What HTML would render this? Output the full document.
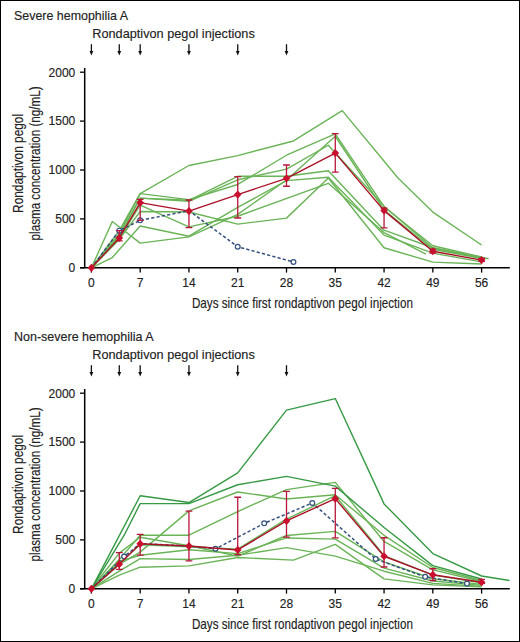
<!DOCTYPE html>
<html><head><meta charset="utf-8"><style>
html,body{margin:0;padding:0;background:#fff}
.w{position:relative;width:520px;height:642px;box-sizing:border-box;border:1px solid #000;background:#fff;overflow:hidden}
svg{position:absolute;left:-1px;top:-1px}
text{font-family:"Liberation Sans",sans-serif;fill:#222;stroke:#222;stroke-width:0.15px}
</style></head><body><div class="w">
<svg width="520" height="642" viewBox="0 0 520 642">
<text x="14" y="19.8" font-size="13" textLength="114" lengthAdjust="spacingAndGlyphs">Severe hemophilia A</text>
<text x="92.3" y="38.2" font-size="13.5" textLength="162.5" lengthAdjust="spacingAndGlyphs">Rondaptivon pegol injections</text>
<path d="M91.4 44.2V52" stroke="#111" stroke-width="1.3"/>
<path d="M89.5 51L93.3 51L91.4 55.5Z" fill="#111"/>
<path d="M119.27 44.2V52" stroke="#111" stroke-width="1.3"/>
<path d="M117.37 51L121.17 51L119.27 55.5Z" fill="#111"/>
<path d="M140.18 44.2V52" stroke="#111" stroke-width="1.3"/>
<path d="M138.28 51L142.08 51L140.18 55.5Z" fill="#111"/>
<path d="M188.95 44.2V52" stroke="#111" stroke-width="1.3"/>
<path d="M187.05 51L190.85 51L188.95 55.5Z" fill="#111"/>
<path d="M237.73 44.2V52" stroke="#111" stroke-width="1.3"/>
<path d="M235.83 51L239.63 51L237.73 55.5Z" fill="#111"/>
<path d="M286.5 44.2V52" stroke="#111" stroke-width="1.3"/>
<path d="M284.6 51L288.4 51L286.5 55.5Z" fill="#111"/>
<path d="M84.7 68V267.8M80 267.8H509.8" stroke="#000" stroke-width="1.5" fill="none"/>
<path d="M80 267.8H84.7" stroke="#000" stroke-width="1.3"/>
<text x="75.3" y="272.1" font-size="12" text-anchor="end">0</text>
<path d="M80 218.9H84.7" stroke="#000" stroke-width="1.3"/>
<text x="75.3" y="223.2" font-size="12" text-anchor="end">500</text>
<path d="M80 170H84.7" stroke="#000" stroke-width="1.3"/>
<text x="75.3" y="174.3" font-size="12" text-anchor="end">1000</text>
<path d="M80 121.1H84.7" stroke="#000" stroke-width="1.3"/>
<text x="75.3" y="125.4" font-size="12" text-anchor="end">1500</text>
<path d="M80 72.2H84.7" stroke="#000" stroke-width="1.3"/>
<text x="75.3" y="76.5" font-size="12" text-anchor="end">2000</text>
<path d="M91.4 267.8V272.6" stroke="#000" stroke-width="1.3"/>
<text x="91.4" y="287.4" font-size="12" text-anchor="middle">0</text>
<path d="M140.18 267.8V272.6" stroke="#000" stroke-width="1.3"/>
<text x="140.18" y="287.4" font-size="12" text-anchor="middle">7</text>
<path d="M188.95 267.8V272.6" stroke="#000" stroke-width="1.3"/>
<text x="188.95" y="287.4" font-size="12" text-anchor="middle">14</text>
<path d="M237.73 267.8V272.6" stroke="#000" stroke-width="1.3"/>
<text x="237.73" y="287.4" font-size="12" text-anchor="middle">21</text>
<path d="M286.5 267.8V272.6" stroke="#000" stroke-width="1.3"/>
<text x="286.5" y="287.4" font-size="12" text-anchor="middle">28</text>
<path d="M335.28 267.8V272.6" stroke="#000" stroke-width="1.3"/>
<text x="335.28" y="287.4" font-size="12" text-anchor="middle">35</text>
<path d="M384.06 267.8V272.6" stroke="#000" stroke-width="1.3"/>
<text x="384.06" y="287.4" font-size="12" text-anchor="middle">42</text>
<path d="M432.83 267.8V272.6" stroke="#000" stroke-width="1.3"/>
<text x="432.83" y="287.4" font-size="12" text-anchor="middle">49</text>
<path d="M481.61 267.8V272.6" stroke="#000" stroke-width="1.3"/>
<text x="481.61" y="287.4" font-size="12" text-anchor="middle">56</text>
<text x="191.9" y="308.2" font-size="14.5" textLength="221" lengthAdjust="spacingAndGlyphs">Days since first rondaptivon pegol injection</text>
<text transform="translate(22.5 163.4) rotate(-90)" x="0" y="0" font-size="14.5" text-anchor="middle" textLength="99" lengthAdjust="spacingAndGlyphs">Rondaptivon pegol</text>
<text transform="translate(40.3 163.4) rotate(-90)" x="0" y="0" font-size="14.5" text-anchor="middle" textLength="154" lengthAdjust="spacingAndGlyphs">plasma concentration (ng/mL)</text>
<path d="M91.4 267.8 L119.27 230.64 L140.18 193.57 L188.95 165.5 L237.73 155.62 L293.47 140.95 L342.25 110.64 L397.99 178.02 L432.83 212.05 L481.61 245.01" stroke="#6ab457" stroke-width="1.4" fill="none" stroke-linejoin="round"/>
<path d="M91.4 267.8 L119.27 233.57 L140.18 193.57 L188.95 199.63 L237.73 184.47 L286.5 155.23 L335.28 133.81 L384.06 206.68 L432.83 245.8 L481.61 257.04" stroke="#6ab457" stroke-width="1.4" fill="none" stroke-linejoin="round"/>
<path d="M91.4 267.8 L119.27 235.53 L140.18 198.17 L188.95 200.32 L237.73 176.26 L286.5 176.26 L328.31 170.78 L384.06 230.15 L432.83 247.75 L488.58 258.7" stroke="#6ab457" stroke-width="1.4" fill="none" stroke-linejoin="round"/>
<path d="M91.4 267.8 L119.27 236.5 L140.18 198.17 L188.95 201.3 L237.73 179.78 L286.5 169.12 L328.31 145.26 L384.06 206.19 L432.83 248.04 L481.61 258.02" stroke="#6ab457" stroke-width="1.4" fill="none" stroke-linejoin="round"/>
<path d="M91.4 267.8 L119.27 238.46 L140.18 205.21 L188.95 226.92 L237.73 216.26 L328.31 183.3 L384.06 232.59 L425.86 254.01" stroke="#6ab457" stroke-width="1.4" fill="none" stroke-linejoin="round"/>
<path d="M91.4 267.8 L119.27 239.44 L140.18 211.47 L188.95 212.05 L237.73 224.08 L286.5 218.12 L328.31 178.02 L384.06 247.75 L432.83 262.13 L481.61 263.99" stroke="#6ab457" stroke-width="1.4" fill="none" stroke-linejoin="round"/>
<path d="M91.4 267.8 L112.3 257.53 L140.18 226.04 L188.95 236.21 L237.73 207.46 L286.5 180.66 L328.31 177.24 L384.06 235.04 L432.83 253.13 L481.61 261.93" stroke="#6ab457" stroke-width="1.4" fill="none" stroke-linejoin="round"/>
<path d="M91.4 267.8 L112.3 221.54 L140.18 243.15 L188.95 236.9 L237.73 214.4 L286.5 179.98 L335.28 136.26 L384.06 210.1 L432.83 249.22 L481.61 258.51" stroke="#6ab457" stroke-width="1.4" fill="none" stroke-linejoin="round"/>
<path d="M91.4 267.8 L119.27 230.64 L140.18 220.37 L188.95 210.68 L237.73 246.77 L293.47 261.93" stroke="#34507f" stroke-width="1.5" fill="none" stroke-dasharray="3.2 2.2"/>
<circle cx="119.27" cy="230.64" r="2.4" fill="#fff" stroke="#34507f" stroke-width="1.2"/>
<circle cx="140.18" cy="220.37" r="2.4" fill="#fff" stroke="#34507f" stroke-width="1.2"/>
<circle cx="237.73" cy="246.77" r="2.4" fill="#fff" stroke="#34507f" stroke-width="1.2"/>
<circle cx="293.47" cy="261.93" r="2.4" fill="#fff" stroke="#34507f" stroke-width="1.2"/>
<path d="M119.27 240.91V230.54M115.87 240.91H122.67M115.87 230.54H122.67" stroke="#b8173c" stroke-width="1.3" fill="none"/>
<path d="M140.18 220.37V199.34M136.78 220.37H143.58M136.78 199.34H143.58" stroke="#b8173c" stroke-width="1.3" fill="none"/>
<path d="M188.95 227.7V200.02M185.55 227.7H192.35M185.55 200.02H192.35" stroke="#b8173c" stroke-width="1.3" fill="none"/>
<path d="M237.73 218.02V176.55M234.33 218.02H241.13M234.33 176.55H241.13" stroke="#b8173c" stroke-width="1.3" fill="none"/>
<path d="M286.5 186.23V165.01M283.1 186.23H289.9M283.1 165.01H289.9" stroke="#b8173c" stroke-width="1.3" fill="none"/>
<path d="M335.28 172.15V133.62M331.88 172.15H338.68M331.88 133.62H338.68" stroke="#b8173c" stroke-width="1.3" fill="none"/>
<path d="M384.06 227.9V208.14M380.66 227.9H387.46M380.66 208.14H387.46" stroke="#b8173c" stroke-width="1.3" fill="none"/>
<path d="M432.83 253.13V249.22M429.43 253.13H436.23M429.43 249.22H436.23" stroke="#b8173c" stroke-width="1.3" fill="none"/>
<path d="M481.61 261.44V258.51M478.21 261.44H485.01M478.21 258.51H485.01" stroke="#b8173c" stroke-width="1.3" fill="none"/>
<path d="M91.4 267.8 L119.27 237.97 L140.18 202.67 L188.95 211.08 L237.73 194.55 L286.5 178.31 L335.28 153.08 L384.06 210.59 L432.83 251.27 L481.61 260.07" stroke="#aa1229" stroke-width="1.4" fill="none" stroke-linejoin="round"/>
<path d="M91.4 263.7L95.2 267.8L91.4 271.9L87.6 267.8Z" fill="#c8102e"/>
<path d="M119.27 233.87L123.07 237.97L119.27 242.07L115.47 237.97Z" fill="#c8102e"/>
<path d="M140.18 198.57L143.98 202.67L140.18 206.77L136.38 202.67Z" fill="#c8102e"/>
<path d="M188.95 206.98L192.75 211.08L188.95 215.18L185.15 211.08Z" fill="#c8102e"/>
<path d="M237.73 190.45L241.53 194.55L237.73 198.65L233.93 194.55Z" fill="#c8102e"/>
<path d="M286.5 174.21L290.3 178.31L286.5 182.41L282.7 178.31Z" fill="#c8102e"/>
<path d="M335.28 148.98L339.08 153.08L335.28 157.18L331.48 153.08Z" fill="#c8102e"/>
<path d="M384.06 206.49L387.86 210.59L384.06 214.69L380.26 210.59Z" fill="#c8102e"/>
<path d="M432.83 247.17L436.63 251.27L432.83 255.37L429.03 251.27Z" fill="#c8102e"/>
<path d="M481.61 255.97L485.41 260.07L481.61 264.17L477.81 260.07Z" fill="#c8102e"/>
<text x="14" y="340.8" font-size="13" textLength="139.6" lengthAdjust="spacingAndGlyphs">Non-severe hemophilia A</text>
<text x="92.3" y="359.2" font-size="13.5" textLength="162.5" lengthAdjust="spacingAndGlyphs">Rondaptivon pegol injections</text>
<path d="M91.4 365.2V373" stroke="#111" stroke-width="1.3"/>
<path d="M89.5 372L93.3 372L91.4 376.5Z" fill="#111"/>
<path d="M119.27 365.2V373" stroke="#111" stroke-width="1.3"/>
<path d="M117.37 372L121.17 372L119.27 376.5Z" fill="#111"/>
<path d="M140.18 365.2V373" stroke="#111" stroke-width="1.3"/>
<path d="M138.28 372L142.08 372L140.18 376.5Z" fill="#111"/>
<path d="M188.95 365.2V373" stroke="#111" stroke-width="1.3"/>
<path d="M187.05 372L190.85 372L188.95 376.5Z" fill="#111"/>
<path d="M237.73 365.2V373" stroke="#111" stroke-width="1.3"/>
<path d="M235.83 372L239.63 372L237.73 376.5Z" fill="#111"/>
<path d="M286.5 365.2V373" stroke="#111" stroke-width="1.3"/>
<path d="M284.6 372L288.4 372L286.5 376.5Z" fill="#111"/>
<path d="M84.7 389V588.8M80 588.8H509.8" stroke="#000" stroke-width="1.5" fill="none"/>
<path d="M80 588.8H84.7" stroke="#000" stroke-width="1.3"/>
<text x="75.3" y="593.1" font-size="12" text-anchor="end">0</text>
<path d="M80 539.9H84.7" stroke="#000" stroke-width="1.3"/>
<text x="75.3" y="544.2" font-size="12" text-anchor="end">500</text>
<path d="M80 491H84.7" stroke="#000" stroke-width="1.3"/>
<text x="75.3" y="495.3" font-size="12" text-anchor="end">1000</text>
<path d="M80 442.1H84.7" stroke="#000" stroke-width="1.3"/>
<text x="75.3" y="446.4" font-size="12" text-anchor="end">1500</text>
<path d="M80 393.2H84.7" stroke="#000" stroke-width="1.3"/>
<text x="75.3" y="397.5" font-size="12" text-anchor="end">2000</text>
<path d="M91.4 588.8V593.6" stroke="#000" stroke-width="1.3"/>
<text x="91.4" y="608.4" font-size="12" text-anchor="middle">0</text>
<path d="M140.18 588.8V593.6" stroke="#000" stroke-width="1.3"/>
<text x="140.18" y="608.4" font-size="12" text-anchor="middle">7</text>
<path d="M188.95 588.8V593.6" stroke="#000" stroke-width="1.3"/>
<text x="188.95" y="608.4" font-size="12" text-anchor="middle">14</text>
<path d="M237.73 588.8V593.6" stroke="#000" stroke-width="1.3"/>
<text x="237.73" y="608.4" font-size="12" text-anchor="middle">21</text>
<path d="M286.5 588.8V593.6" stroke="#000" stroke-width="1.3"/>
<text x="286.5" y="608.4" font-size="12" text-anchor="middle">28</text>
<path d="M335.28 588.8V593.6" stroke="#000" stroke-width="1.3"/>
<text x="335.28" y="608.4" font-size="12" text-anchor="middle">35</text>
<path d="M384.06 588.8V593.6" stroke="#000" stroke-width="1.3"/>
<text x="384.06" y="608.4" font-size="12" text-anchor="middle">42</text>
<path d="M432.83 588.8V593.6" stroke="#000" stroke-width="1.3"/>
<text x="432.83" y="608.4" font-size="12" text-anchor="middle">49</text>
<path d="M481.61 588.8V593.6" stroke="#000" stroke-width="1.3"/>
<text x="481.61" y="608.4" font-size="12" text-anchor="middle">56</text>
<text x="191.9" y="629.2" font-size="14.5" textLength="221" lengthAdjust="spacingAndGlyphs">Days since first rondaptivon pegol injection</text>
<text transform="translate(22.5 484.4) rotate(-90)" x="0" y="0" font-size="14.5" text-anchor="middle" textLength="99" lengthAdjust="spacingAndGlyphs">Rondaptivon pegol</text>
<text transform="translate(40.3 484.4) rotate(-90)" x="0" y="0" font-size="14.5" text-anchor="middle" textLength="154" lengthAdjust="spacingAndGlyphs">plasma concentration (ng/mL)</text>
<path d="M91.4 588.8 L119.27 564.35 L140.18 552.12 L188.95 510.85 L237.73 491.98 L286.5 499.02 L335.28 494.81 L384.06 535.3 L432.83 567.48 L481.61 580.49" stroke="#6ab457" stroke-width="1.4" fill="none" stroke-linejoin="round"/>
<path d="M91.4 588.8 L119.27 559.46 L140.18 535.21 L188.95 535.21 L237.73 511.54 L286.5 489.63 L335.28 482.39 L384.06 541.46 L432.83 569.83 L481.61 581.46" stroke="#6ab457" stroke-width="1.4" fill="none" stroke-linejoin="round"/>
<path d="M91.4 588.8 L119.27 553.1 L140.18 537.26 L188.95 545.77 L237.73 556.13 L286.5 535.5 L335.28 531.39 L384.06 561.9 L432.83 578.73 L481.61 584.4" stroke="#6ab457" stroke-width="1.4" fill="none" stroke-linejoin="round"/>
<path d="M91.4 588.8 L119.27 561.42 L140.18 555.25 L188.95 549.68 L237.73 553.59 L286.5 537.94 L335.28 539.12 L384.06 568.07 L432.83 580.98 L481.61 585.38" stroke="#6ab457" stroke-width="1.4" fill="none" stroke-linejoin="round"/>
<path d="M91.4 588.8 L119.27 571.2 L140.18 558.58 L188.95 559.46 L237.73 555.25 L286.5 547.63 L335.28 556.13 L384.06 571.2 L432.83 583.42 L481.61 586.35" stroke="#6ab457" stroke-width="1.4" fill="none" stroke-linejoin="round"/>
<path d="M91.4 588.8 L119.27 575.11 L140.18 567.19 L188.95 565.91 L237.73 557.5 L293.47 560.14 L335.28 544.4 L384.06 578.92 L432.83 584.89 L481.61 586.84" stroke="#6ab457" stroke-width="1.4" fill="none" stroke-linejoin="round"/>
<path d="M91.4 588.8 L119.27 563.18 L140.18 544.79 L188.95 546.75 L237.73 549.19 L286.5 519.17 L335.28 495.69 L384.06 555.55 L432.83 575.11 L481.61 582.74" stroke="#6ab457" stroke-width="1.4" fill="none" stroke-linejoin="round"/>
<path d="M91.4 588.8 L124.15 535.21 L140.18 503.62 L188.95 503.62 L237.73 484.74 L286.5 476.33 L335.28 486.11 L384.06 527.48 L432.83 565.62 L481.61 579.02" stroke="#369a44" stroke-width="1.4" fill="none" stroke-linejoin="round"/>
<path d="M91.4 588.8 L140.18 495.79 L188.95 502.54 L237.73 472.91 L286.5 410.12 L335.28 398.58 L384.06 503.91 L432.83 553.59 L481.61 575.99 L509.48 580.49" stroke="#369a44" stroke-width="1.4" fill="none" stroke-linejoin="round"/>
<path d="M91.4 588.8 L124.15 556.62 L140.18 543.62 L188.95 546.06 L215.43 548.8 L264.21 523.37 L312.29 502.93 L375.69 559.07 L425.17 576.87 L466.98 583.62" stroke="#34507f" stroke-width="1.5" fill="none" stroke-dasharray="3.2 2.2"/>
<circle cx="124.15" cy="556.62" r="2.4" fill="#fff" stroke="#34507f" stroke-width="1.2"/>
<circle cx="215.43" cy="548.8" r="2.4" fill="#fff" stroke="#34507f" stroke-width="1.2"/>
<circle cx="264.21" cy="523.37" r="2.4" fill="#fff" stroke="#34507f" stroke-width="1.2"/>
<circle cx="312.29" cy="502.93" r="2.4" fill="#fff" stroke="#34507f" stroke-width="1.2"/>
<circle cx="375.69" cy="559.07" r="2.4" fill="#fff" stroke="#34507f" stroke-width="1.2"/>
<circle cx="425.17" cy="576.87" r="2.4" fill="#fff" stroke="#34507f" stroke-width="1.2"/>
<circle cx="466.98" cy="583.62" r="2.4" fill="#fff" stroke="#34507f" stroke-width="1.2"/>
<path d="M119.27 569.44V552.71M115.87 569.44H122.67M115.87 552.71H122.67" stroke="#b8173c" stroke-width="1.3" fill="none"/>
<path d="M140.18 555.06V534.42M136.78 555.06H143.58M136.78 534.42H143.58" stroke="#b8173c" stroke-width="1.3" fill="none"/>
<path d="M188.95 560.83V511.15M185.55 560.83H192.35M185.55 511.15H192.35" stroke="#b8173c" stroke-width="1.3" fill="none"/>
<path d="M237.73 554.57V497.26M234.33 554.57H241.13M234.33 497.26H241.13" stroke="#b8173c" stroke-width="1.3" fill="none"/>
<path d="M286.5 537.16V491.29M283.1 537.16H289.9M283.1 491.29H289.9" stroke="#b8173c" stroke-width="1.3" fill="none"/>
<path d="M335.28 537.94V488.36M331.88 537.94H338.68M331.88 488.36H338.68" stroke="#b8173c" stroke-width="1.3" fill="none"/>
<path d="M384.06 566.99V537.75M380.66 566.99H387.46M380.66 537.75H387.46" stroke="#b8173c" stroke-width="1.3" fill="none"/>
<path d="M432.83 580.49V568.75M429.43 580.49H436.23M429.43 568.75H436.23" stroke="#b8173c" stroke-width="1.3" fill="none"/>
<path d="M481.61 583.42V579.31M478.21 583.42H485.01M478.21 579.31H485.01" stroke="#b8173c" stroke-width="1.3" fill="none"/>
<path d="M91.4 588.8 L119.27 564.15 L140.18 543.81 L188.95 546.06 L237.73 549.97 L286.5 520.93 L335.28 498.63 L384.06 556.23 L432.83 574.81 L481.61 582.25" stroke="#aa1229" stroke-width="1.4" fill="none" stroke-linejoin="round"/>
<path d="M91.4 584.7L95.2 588.8L91.4 592.9L87.6 588.8Z" fill="#c8102e"/>
<path d="M119.27 560.05L123.07 564.15L119.27 568.25L115.47 564.15Z" fill="#c8102e"/>
<path d="M140.18 539.71L143.98 543.81L140.18 547.91L136.38 543.81Z" fill="#c8102e"/>
<path d="M188.95 541.96L192.75 546.06L188.95 550.16L185.15 546.06Z" fill="#c8102e"/>
<path d="M237.73 545.87L241.53 549.97L237.73 554.07L233.93 549.97Z" fill="#c8102e"/>
<path d="M286.5 516.83L290.3 520.93L286.5 525.03L282.7 520.93Z" fill="#c8102e"/>
<path d="M335.28 494.53L339.08 498.63L335.28 502.73L331.48 498.63Z" fill="#c8102e"/>
<path d="M384.06 552.13L387.86 556.23L384.06 560.33L380.26 556.23Z" fill="#c8102e"/>
<path d="M432.83 570.71L436.63 574.81L432.83 578.91L429.03 574.81Z" fill="#c8102e"/>
<path d="M481.61 578.15L485.41 582.25L481.61 586.35L477.81 582.25Z" fill="#c8102e"/>
</svg></div></body></html>
